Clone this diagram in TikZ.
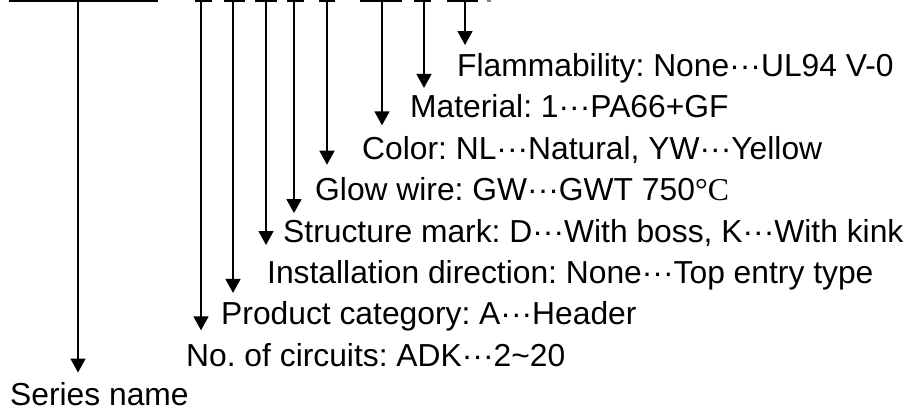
\documentclass[tikz,border=0pt]{standalone}
\usepackage{fontspec}
\setmainfont{Liberation Sans}
\newfontfamily\degfont{Liberation Serif}
\usepackage{tikz}
\usetikzlibrary{arrows.meta}
\frenchspacing
\newcommand{\mdots}{\textperiodcentered\textperiodcentered\textperiodcentered}
\newcommand{\degC}{{\degfont °C}}

\begin{document}
\begin{tikzpicture}[
  x=1pt,y=-1pt,
  every node/.style={font=\fontsize{31.8}{36}\selectfont,inner sep=0pt,
    anchor=base west},
  arr/.style={-{Triangle[length=14pt,width=15pt]},line width=1.6pt},
  bar/.style={line width=1.6pt}
]
  \useasboundingbox (0,0) rectangle (910,410);

  \coordinate (series-top) at (78,0);
  \coordinate (circuits-top) at (201,0);
  \coordinate (category-top) at (233,0);
  \coordinate (direction-top) at (266,0);
  \coordinate (structure-top) at (294,0);
  \coordinate (glow-top) at (327,0);
  \coordinate (color-top) at (382,0);
  \coordinate (material-top) at (424,0);
  \coordinate (flame-top) at (465,0);

  \draw[bar] (9,0.8) -- (158,0.8);
  \draw[bar] (195,0.8) -- (212,0.8);
  \draw[bar] (224,0.8) -- (245,0.8);
  \draw[bar] (255,0.8) -- (277,0.8);
  \draw[bar] (287,0.8) -- (304,0.8);
  \draw[bar] (319,0.8) -- (335,0.8);
  \draw[bar] (360,0.8) -- (402,0.8);
  \draw[bar] (414,0.8) -- (431,0.8);
  \draw[bar] (447,0.8) -- (478,0.8);
  \draw[bar,gray] (487,0.8) -- (491,0.8);

  \node (flame) at (457,76.5) {Flammability: None\mdots UL94 V-0};
  \node (material) at (410,117.9) {Material: 1\mdots PA66+GF};
  \node (color) at (362,159.3) {Color: NL\mdots Natural, YW\mdots Yellow};
  \node (glow) at (315,200.7) {Glow wire: GW\mdots GWT 750\degC};
  \node (structure) at (283,242.1)
    {Structure mark: D\mdots With boss, K\mdots With kink};
  \node (direction) at (267,283.5)
    {Installation direction: None\mdots Top entry type};
  \node (category) at (221,324.9) {Product category: A\mdots Header};
  \node (circuits) at (186,366.3) {No. of circuits: ADK\mdots 2\textasciitilde20};
  \node (series) at (10,405.5) {Series name};

  \draw[arr,shorten >=31.5pt] (flame-top) -- (flame-top |- flame.base);
  \draw[arr,shorten >=30pt] (material-top) -- (material-top |- material.base);
  \draw[arr,shorten >=34pt] (color-top) -- (color-top |- color.base);
  \draw[arr,shorten >=36pt] (glow-top) -- (glow-top |- glow.base);
  \draw[arr,shorten >=29pt] (structure-top) -- (structure-top |- structure.base);
  \draw[arr,shorten >=38.5pt] (direction-top) -- (direction-top |- direction.base);
  \draw[arr,shorten >=32pt] (category-top) -- (category-top |- category.base);
  \draw[arr,shorten >=36pt] (circuits-top) -- (circuits-top |- circuits.base);
  \draw[arr,shorten >=33pt] (series-top) -- (series-top |- series.base);
\end{tikzpicture}
\end{document}
